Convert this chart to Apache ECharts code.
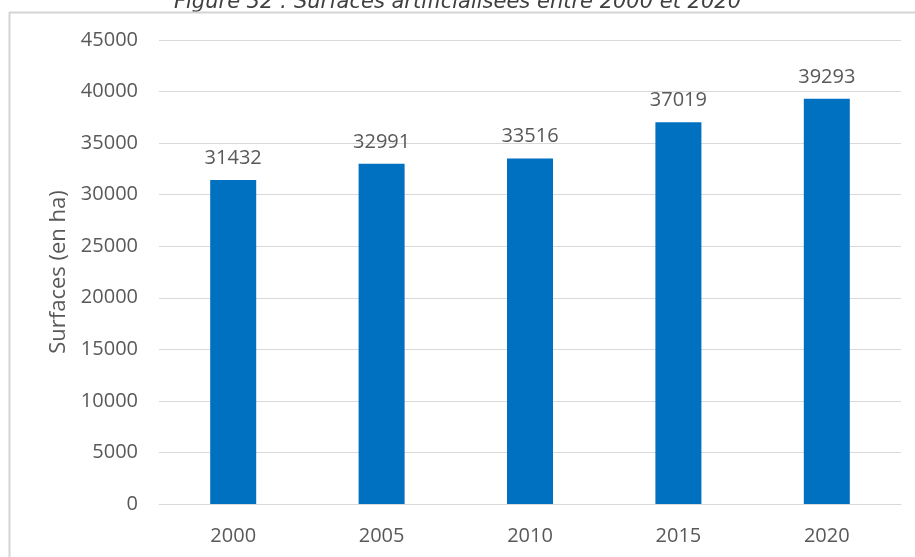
<!DOCTYPE html>
<html>
<head>
<meta charset="utf-8">
<script src="https://cdn.jsdelivr.net/npm/echarts@6/dist/echarts.min.js"></script>
<style>
html,body{margin:0;padding:0;background:#fff;}
#c{width:915px;height:557px;}
</style>
</head>
<body>
<div id="c"></div>
<script>
var titleText = "Figure 32 : Surfaces artificialisées entre 2000 et 2020";
var categories = ["2000", "2005", "2010", "2015", "2020"];
var values = [31432, 32991, 33516, 37019, 39293];
var yAxisName = "Surfaces (en ha)";
var yMin = 0, yMax = 45000, yInterval = 5000;

var chart = echarts.init(document.getElementById('c'), null, {renderer: 'canvas'});
var fontFam = '"Open Sans", "DejaVu Sans", sans-serif';
chart.setOption({
  animation: false,
  backgroundColor: '#ffffff',
  graphic: [
    {type: 'text', left: 'center', top: -8, style: {text: titleText, font: 'italic 21px "DejaVu Sans", sans-serif', fill: '#404040'}},
    {type: 'rect', shape: {x: 0, y: 0, width: 915, height: 11}, style: {fill: 'rgba(0,0,0,0)'}, silent: true},
    {type: 'line', shape: {x1: 9, y1: 12.5, x2: 915, y2: 12.5}, style: {stroke: '#d4d4d4', lineWidth: 2}},
    {type: 'line', shape: {x1: 9.5, y1: 12, x2: 9.5, y2: 557}, style: {stroke: '#d4d4d4', lineWidth: 2}}
  ],
  grid: {left: 159, right: 14, top: 40, bottom: 53, containLabel: false},
  xAxis: {
    type: 'category',
    data: categories,
    axisTick: {show: false},
    axisLine: {lineStyle: {color: '#d9d9d9', width: 1}},
    axisLabel: {color: '#595959', fontSize: 20, fontFamily: fontFam, margin: 22}
  },
  yAxis: {
    type: 'value',
    min: yMin, max: yMax, interval: yInterval,
    name: yAxisName,
    nameLocation: 'middle',
    nameGap: 89,
    nameTextStyle: {color: '#595959', fontSize: 22, fontFamily: fontFam},
    axisLine: {show: false},
    axisTick: {show: false},
    axisLabel: {color: '#595959', fontSize: 20, fontFamily: fontFam, margin: 21, formatter: function (v) { return String(v); }},
    splitLine: {lineStyle: {color: '#d9d9d9', width: 1}}
  },
  series: [{
    type: 'bar',
    data: values,
    barWidth: 46,
    itemStyle: {color: '#0070C0'},
    label: {show: true, position: 'top', distance: 12, color: '#595959', fontSize: 20, fontFamily: fontFam}
  }]
});
</script>
</body>
</html>
